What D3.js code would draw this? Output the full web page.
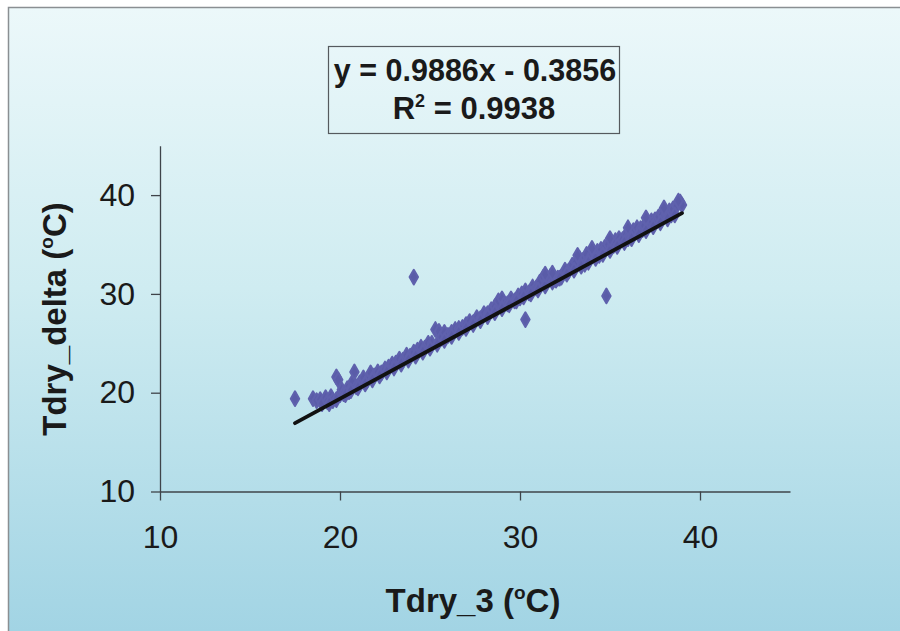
<!DOCTYPE html>
<html><head><meta charset="utf-8">
<script src="https://cdn.jsdelivr.net/npm/d3@7"></script>
<style>html,body{margin:0;padding:0;background:#fff;}svg{display:block;}</style>
</head><body>
<svg id="chart" width="900" height="631"></svg>
<script>
// ---- data ----
const tdry3 = [17.5,18.5,18.7,18.9,19.0,19.2,19.3,19.5,19.6,19.8,19.9,20.0,20.1,20.2,20.4,20.5,20.7,20.8,20.9,21.1,21.3,21.5,21.7,21.9,22.1,22.3,22.5,22.7,22.9,23.1,23.3,23.5,23.7,23.9,24.1,24.1,24.3,24.5,24.7,24.9,25.1,25.3,25.5,25.6,25.8,26.0,26.2,26.4,26.6,26.8,27.0,27.2,27.4,27.6,27.8,28.0,28.2,28.4,28.6,28.8,29.0,29.1,29.3,29.5,29.7,29.9,30.0,30.1,30.3,30.3,30.5,30.7,30.9,31.0,31.1,31.3,31.5,31.7,31.9,32.0,32.1,32.3,32.5,32.7,32.9,33.1,33.3,33.5,33.6,33.7,33.9,34.1,34.3,34.4,34.5,34.7,34.8,34.9,35.1,35.2,35.3,35.5,35.7,35.9,36.0,36.1,36.3,36.5,36.7,36.8,36.9,37.1,37.3,37.5,37.6,37.7,37.9,38.1,38.3,38.4,38.5,38.7,38.9,39.0,
  19.4,19.8,20.3,20.6,21.0,21.4,21.8,22.2,22.6,23.0,23.4,23.8,24.2,24.6,25.0,25.4,25.8,26.2,26.6,27.0,27.4,27.8,28.2,28.6,29.0,29.4,29.8,30.2,30.6,31.0,31.4,31.8,32.2,32.6,33.0,33.4,33.8,34.2,34.6,35.0,35.4,35.8,36.2,36.6,37.0,37.4,37.8,38.2,38.6,
  31.4,31.8,33.2,34.0,35.0,36.0,37.0,38.0,38.8];
const tdryDelta = [19.4,19.4,19.2,19.3,18.9,19.5,19.1,19.6,19.2,21.6,21.3,19.8,20.3,19.9,20.4,20.1,21.1,22.1,20.6,21.0,21.5,21.2,22.0,21.7,22.1,22.0,22.4,22.6,22.9,23.0,23.4,23.3,23.8,23.7,24.1,31.7,24.3,24.6,24.5,25.0,25.0,26.4,26.2,25.5,26.1,25.8,26.1,26.4,26.5,26.6,26.9,27.2,27.1,27.6,27.5,28.0,28.0,28.4,28.7,29.3,29.5,28.9,29.0,29.5,29.3,29.8,29.6,30.0,27.4,30.3,30.1,30.7,30.6,30.6,31.2,31.7,31.4,31.8,31.5,31.4,31.6,31.7,32.4,32.3,32.9,33.2,33.6,33.4,33.0,34.0,33.7,34.2,34.3,33.9,34.5,34.7,29.8,35.0,34.9,34.9,35.4,35.6,35.5,36.0,35.6,36.1,36.4,36.7,36.6,36.5,36.9,37.2,37.4,37.5,37.4,37.8,38.0,38.1,38.4,38.0,38.6,38.9,39.3,39.0,
  18.9,19.3,19.8,20.2,20.5,20.9,21.3,21.7,22.1,22.5,22.9,23.3,23.7,24.1,24.5,24.9,25.3,25.7,26.1,26.5,26.9,27.3,27.7,28.1,28.5,28.9,29.3,29.7,30.0,30.4,30.8,31.2,31.6,32.0,32.4,32.8,33.2,33.6,34.0,34.4,34.8,35.2,35.6,36.0,36.4,36.8,37.2,37.6,38.0,
  32.0,32.1,33.9,34.6,35.6,36.7,37.7,38.7,39.4];
const trendSlope = 0.9886;
const trendIntercept = -0.3856;
const trendXRange = [17.5, 39.0];
const rSquared = "0.9938";
const xTicks = [10, 20, 30, 40];
const yTicks = [10, 20, 30, 40];
const xTitle = "Tdry_3 (";
const yTitle = "Tdry_delta (";

// ---- drawing ----
const svg = d3.select("#chart");
const defs = svg.append("defs");
const grad = defs.append("linearGradient").attr("id","bg").attr("x1",0).attr("y1",0).attr("x2",0).attr("y2",1);
grad.append("stop").attr("offset","0%").attr("stop-color","#ecf8fa");
grad.append("stop").attr("offset","45%").attr("stop-color","#cfecf1");
grad.append("stop").attr("offset","100%").attr("stop-color","#a2d4e4");

svg.append("rect").attr("x",8).attr("y",7).attr("width",892).attr("height",624)
  .attr("fill","url(#bg)");
svg.append("path").attr("d","M8.5,631V7.5H900").attr("fill","none").attr("stroke","#8a8f92").attr("stroke-width",1.5);

const x = d3.scaleLinear().domain([10,45]).range([160,790]);
const y = d3.scaleLinear().domain([10,45]).range([491.5,145.7]);

const font = "'Liberation Sans', Arial, sans-serif";

const xAxis = svg.append("g").attr("transform","translate(0,491.5)")
  .call(d3.axisBottom(x).tickValues(xTicks).tickSize(9).tickSizeOuter(0).tickPadding(25));
const yAxis = svg.append("g").attr("transform","translate(160,0)")
  .call(d3.axisLeft(y).tickValues(yTicks).tickSize(9).tickSizeOuter(0).tickPadding(16));
[xAxis,yAxis].forEach(g=>{
  g.select(".domain").attr("stroke","#3f444a").attr("stroke-width",1.3);
  g.selectAll(".tick line").attr("stroke","#3f444a").attr("stroke-width",1.3);
  g.selectAll(".tick text").attr("fill","#1a1a1a").style("font-family",font).style("font-size","32px");
});

// scatter points (diamonds)
const diamond = d3.symbol().type(d3.symbolDiamond).size(62);
svg.append("g").selectAll("path").data(tdry3.map((v,i)=>[v,tdryDelta[i]])).join("path")
  .attr("transform",d=>`translate(${x(d[0])},${y(d[1])})`)
  .attr("d",diamond)
  .attr("fill","#5a5ca8").attr("stroke","#5f61ad").attr("stroke-width",2).attr("stroke-linejoin","round");

// trend line
svg.append("line")
  .attr("x1",x(trendXRange[0])).attr("y1",y(trendSlope*trendXRange[0]+trendIntercept))
  .attr("x2",x(trendXRange[1])).attr("y2",y(trendSlope*trendXRange[1]+trendIntercept))
  .attr("stroke","#111").attr("stroke-width",3.8).attr("stroke-linecap","round");

// equation box
svg.append("rect").attr("x",328.5).attr("y",46.5).attr("width",291).attr("height",87)
  .attr("fill","none").attr("stroke","#555a5e").attr("stroke-width",1.2);
const eq = svg.append("text").attr("x",475).attr("y",81).attr("text-anchor","middle")
  .style("font-family",font).style("font-weight","bold").style("font-size","30.5px").attr("fill","#1a1a1a");
eq.text(`y = ${trendSlope}x - ${Math.abs(trendIntercept)}`);
const r2 = svg.append("text").attr("x",474).attr("y",119).attr("text-anchor","middle")
  .style("font-family",font).style("font-weight","bold").style("font-size","31px").attr("fill","#1a1a1a");
r2.append("tspan").text("R");
r2.append("tspan").attr("dy",-12).style("font-size","18px").text("2");
r2.append("tspan").attr("dy",12).text(` = ${rSquared}`);

// axis titles
const xt = svg.append("text").attr("x",473).attr("y",612).attr("text-anchor","middle")
  .style("font-family",font).style("font-weight","bold").style("font-size","33px").attr("fill","#1a1a1a");
xt.append("tspan").text(xTitle);
xt.append("tspan").attr("dy",-13).style("font-size","19px").text("o");
xt.append("tspan").attr("dy",13).text("C)");

const yt = svg.append("text").attr("transform","translate(66,319) rotate(-90)").attr("text-anchor","middle")
  .style("font-family",font).style("font-weight","bold").style("font-size","33px").attr("fill","#1a1a1a");
yt.append("tspan").text(yTitle);
yt.append("tspan").attr("dy",-13).style("font-size","19px").text("o");
yt.append("tspan").attr("dy",13).text("C)");
</script>
</body></html>
